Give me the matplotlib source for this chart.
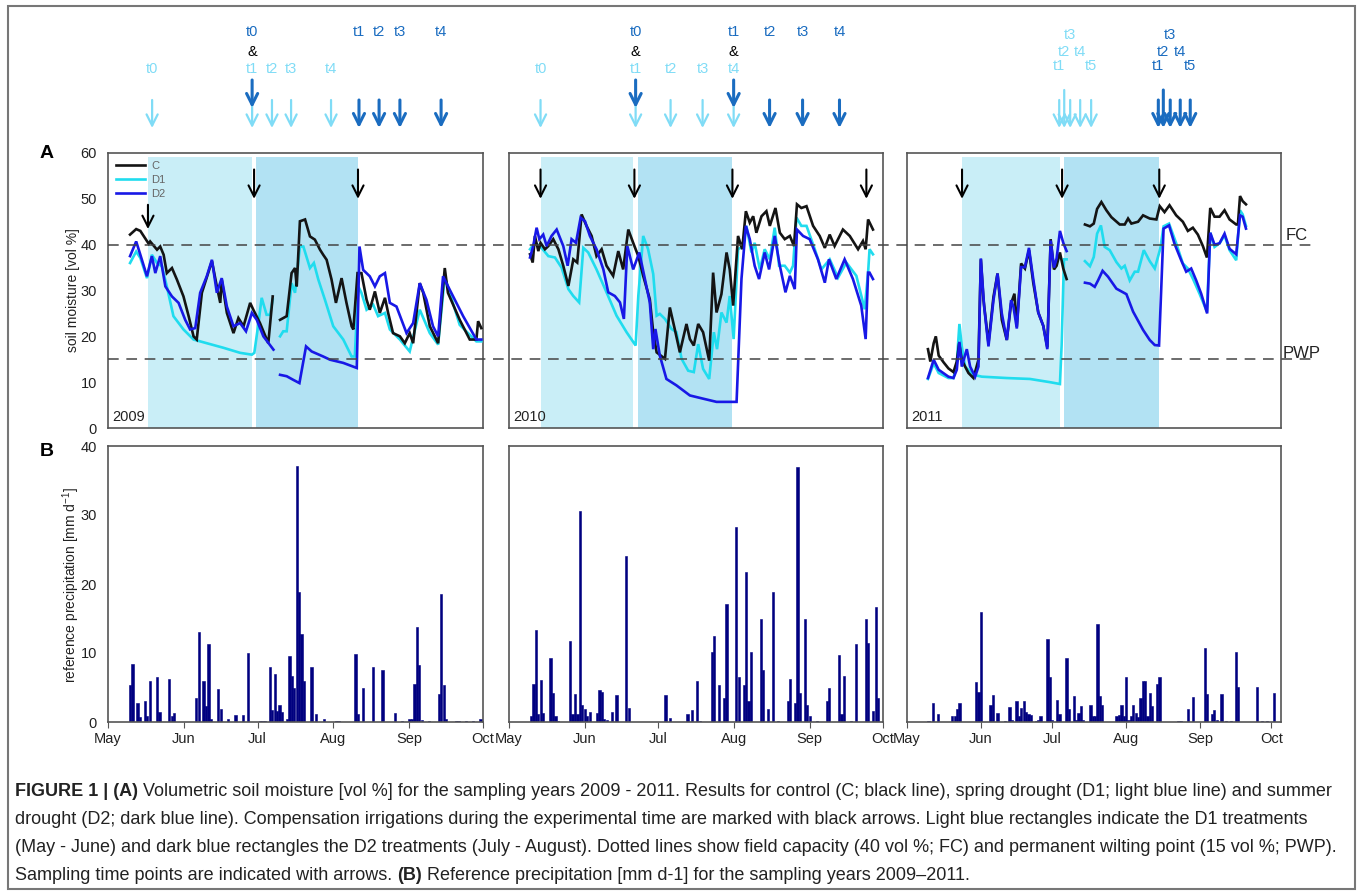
import numpy as np
import matplotlib
matplotlib.use('Agg')
import matplotlib.pyplot as plt
import matplotlib.transforms as mtrans
from matplotlib import font_manager
from matplotlib.lines import Line2D
from matplotlib.patches import Rectangle

plt.rcParams['font.family'] = ['Liberation Sans', 'DejaVu Sans']
plt.rcParams['mathtext.default'] = 'regular'

nan = np.nan

# ---------------- data ----------------
years = ['2009', '2010', '2011']
month_days = [0, 31, 61, 92, 123, 153]      # days since 1 May
month_names = ['May', 'Jun', 'Jul', 'Aug', 'Sep', 'Oct']
x_end = [153, 153, 157]

# soil moisture (day since 1 May, vol %); nan = gap
c_2009 = [(9, 42.2), (11.5, 43.4), (13.2, 43), (16.6, 40.2), (17.2, 40.7), (20, 38.9), (21.3, 39.6), (22.7, 37.8),
          (24, 33.8), (26.1, 34.9), (28.1, 32.4), (30.8, 28.7), (32.9, 24.4), (34.9, 20), (36.2, 19.3), (38.3, 29.5),
          (42.4, 36.4), (44.4, 30.9), (45.8, 27.3), (46.4, 32.4), (48.5, 25.1), (51.2, 20.7), (53.2, 24), (55.3, 22.2),
          (58, 27.3), (59.3, 25.8), (62, 22.9), (65.4, 18.5), (67.2, 28.7), (nan, nan),
          (70.2, 23.6), (72.9, 24.4), (74.9, 33.8), (76.3, 34.9), (77, 30.9), (78.3, 45.1), (80.4, 45.5), (82.4, 41.8),
          (84.4, 41.1), (86.5, 38.9), (87.8, 37.8), (89.2, 36.7), (91.2, 32.4), (93, 27.3), (95.3, 32.7), (97.3, 27.3),
          (99.4, 22.2), (100.1, 21.5), (101.8, 33.8), (103.4, 33.8), (105.5, 28), (106.8, 25.8), (108.9, 29.8),
          (110.9, 25.1), (113, 28.4), (114.3, 25.1), (116.3, 20.7), (119.1, 20), (121.1, 18.5), (123.1, 20.7),
          (124.5, 18.5), (127.2, 31.6), (128.6, 29.5), (131.3, 22.2), (134.7, 18.5), (137.4, 34.9), (138.7, 29.5),
          (143.5, 23.6), (147.6, 19.3), (150.3, 19.3), (151, 23.3), (152.3, 21.8)]
d1_2009 = [(9, 36), (11.5, 38.5), (13.2, 37.1), (15.9, 32.7), (17.9, 37.8), (20, 36), (22, 35.3), (24, 30.9),
           (26.7, 24.4), (30.8, 21.5), (34.9, 19.3), (40.3, 18.5), (47.1, 17.5), (53.9, 16.4), (58.7, 16), (59.7, 16.4),
           (61.4, 22.9), (62.7, 28.4), (64.7, 24.7), (66.1, 24.7), (67.2, 28), (nan, nan),
           (70.2, 20), (71.5, 21.1), (72.9, 21.1), (74.9, 31.6), (76.3, 29.5), (78.3, 39.6), (79.7, 39.6), (82.4, 34.9),
           (84, 36), (85.8, 32.4), (88.5, 28), (91.9, 22.2), (96, 19.3), (99.4, 15.6), (100.7, 15.6), (102.1, 30.9),
           (103.4, 29.5), (105.5, 25.8), (108.2, 26.9), (110.2, 24.4), (113, 25.1), (115, 21.5), (119.1, 19.3),
           (123.1, 16.7), (127.2, 25.8), (131.3, 20.7), (134.7, 18.2), (137.4, 33), (143.5, 22.5), (150.3, 18.9),
           (152.3, 18.9)]
d2_2009 = [(9, 37.5), (11.5, 40.7), (13.2, 37.8), (15.9, 33.1), (17.9, 37.5), (19.3, 33.8), (21.3, 37.5), (23.4, 30.9),
           (26.1, 28.7), (28.8, 27.3), (31.5, 23.6), (33.5, 21.5), (35.6, 21.8), (37.6, 29.5), (40.3, 33.1), (42.4, 36.7),
           (44.4, 29.5), (46.4, 32.7), (48.5, 26.5), (51.2, 22.2), (53.9, 22.9), (56.3, 21.1), (58.7, 25.1), (60.7, 23.6),
           (63.4, 20), (67.5, 17.1), (nan, nan),
           (70.2, 11.6), (72.9, 11.3), (75.6, 10.5), (78.1, 9.8), (80.8, 17.8), (83.1, 16.7), (87.8, 15.6), (90.6, 14.9),
           (96, 14.2), (101.5, 13.1), (102.6, 39.6), (104.1, 34.5), (106.8, 33.1), (108.9, 30.9), (110.9, 33.1),
           (113, 33.8), (115, 27.3), (117.7, 26.5), (121.8, 20.7), (124.5, 22.9), (127.2, 31.6), (129.9, 28),
           (132.6, 22.2), (134.7, 20), (136.7, 33.1), (139.4, 30.2), (144.9, 24.4), (150.3, 19.3), (152.3, 19.3)]

c_2010 = [(8.6, 37.9), (9.7, 36.1), (10.6, 41.9), (12, 38.6), (12.9, 40.4), (14.7, 39), (16.1, 39.7), (18.1, 41.2),
          (20.2, 39), (22.2, 35.4), (24.3, 31), (26.3, 36.8), (27.9, 36.1), (29.7, 46.6), (31.7, 44.1), (33.8, 41.9),
          (35.8, 37.5), (37.9, 39), (39.9, 35.4), (42.6, 33.2), (44.7, 38.6), (46.7, 34.6), (48.8, 43.3), (50.8, 40.4),
          (52.9, 37.5), (54.9, 33.2), (57.6, 28.1), (59, 20.9), (60.4, 16.5), (63.8, 15.1), (65.8, 26.3), (67.8, 21.6),
          (69.9, 16.5), (72.6, 22.7), (74, 19.4), (75.6, 18), (77.4, 22.7), (79.4, 20.9), (81.9, 14.7), (83.5, 33.9),
          (84.9, 25.2), (86.9, 29.2), (89, 38.3), (90.3, 34.6), (91.7, 26.7), (93.7, 41.9), (95.4, 39), (96.9, 47.3),
          (98.5, 44.8), (99.9, 46.2), (101.2, 42.6), (103.3, 46.2), (105.3, 47.3), (106.7, 44.1), (109, 48),
          (110.8, 42.6), (112.8, 41.2), (114.9, 41.9), (116.6, 39.7), (117.8, 48.8), (119.6, 48), (121.7, 48.4),
          (124.4, 44.1), (127.1, 41.9), (129.2, 39.3), (131.2, 42.2), (133.2, 39.7), (136.6, 43.3), (139.4, 41.9),
          (142.8, 39), (144.8, 40.8), (145.9, 39), (146.9, 45.5), (148.9, 43.3)]
d1_2010 = [(8.6, 39), (10.6, 40.4), (12.7, 39.7), (16.1, 37.5), (18.8, 37.2), (21.5, 35), (24.3, 30.3), (26.3, 28.8),
           (28.7, 27.4), (30.4, 39.3), (32.4, 38.3), (35.8, 34.6), (39.9, 29.6), (44, 24.5), (48.1, 20.9), (51.8, 18),
           (52.9, 28.8), (54.9, 41.9), (56.9, 39), (59, 33.6), (60.4, 24.5), (61.7, 24.9), (63.8, 23.8), (66.5, 21.6),
           (68.5, 20.9), (70.6, 15.1), (73.3, 12.5), (75.6, 12.2), (77.4, 18.3), (79.4, 12.9), (81.9, 10.7),
           (83.8, 20.9), (85.1, 17.2), (86.9, 25.2), (89, 23), (90.3, 28.8), (91.9, 19.4), (93.7, 39), (95.8, 39.7),
           (97.1, 44.1), (99.2, 38.3), (100.5, 40.4), (102.6, 34.6), (104.6, 39), (106.7, 36.8), (108.7, 43.7),
           (110.5, 35.4), (112.8, 35.4), (114.9, 33.9), (116.2, 35.4), (117.6, 45.9), (119.6, 44.1), (121.7, 44.1),
           (125.1, 39), (127.8, 34.6), (131.2, 36.8), (134.6, 32.8), (138, 36.1), (142.1, 33.2), (145.5, 25.9),
           (146.9, 33.9), (147.5, 39), (148.9, 37.9)]
d2_2010 = [(8.6, 37.2), (9.9, 39.7), (11.3, 43.7), (12.4, 41.2), (14, 42.2), (15.4, 39.7), (17.4, 41.9), (19.5, 43.3),
           (22.2, 39.7), (24, 35.4), (25.6, 41.2), (27.4, 40.4), (29.3, 45.9), (31.1, 45.1), (33.1, 41.9), (35.8, 39),
           (38.6, 34.6), (40.6, 29.6), (43.3, 28.8), (45.4, 27.4), (47, 23.8), (48.4, 39.7), (50.8, 34.6), (53.3, 38.3),
           (55.6, 32.5), (57.6, 27.4), (59, 17.2), (59.9, 21.6), (61.7, 15.8), (64.4, 10.7), (68.5, 9.3), (74, 7.1),
           (79.4, 6.4), (84.9, 5.7), (93.1, 5.7), (95.1, 32.5), (96.9, 44.1), (98.5, 41.2), (100.5, 35.4),
           (102.3, 32.5), (104.6, 38.3), (106.4, 34.6), (108.7, 41.9), (110.8, 35.4), (113.1, 29.6), (114.9, 33.2),
           (116.9, 30.3), (117.8, 43.3), (120.3, 41.9), (123, 41.2), (126.4, 36.8), (129.2, 31.7), (130.9, 36.8),
           (133.9, 32.5), (137.3, 36.8), (140.7, 32.5), (144.1, 26.7), (145.9, 19.4), (146.9, 33.9), (147.5, 33.9),
           (148.9, 32.5)]

c_2011 = [(8.8, 17.2), (9.8, 14.5), (11.2, 18.5), (12.1, 20), (13.3, 15.8), (15.4, 14.3), (17.4, 13), (19.5, 12.2),
          (20.9, 14.5), (21.9, 18.5), (23, 14.9), (24.4, 13.4), (25.8, 12), (27.9, 10.9), (30, 14.9), (31, 36.8),
          (32.1, 28), (34.2, 18.5), (36.3, 28.6), (38, 33.7), (39.8, 23.6), (41.9, 19.2), (43.7, 27.2), (45.1, 29.3),
          (46.1, 22.1), (47.9, 35.9), (49.5, 34.8), (51.2, 38.8), (53, 31.7), (55.1, 25.2), (57.2, 22.3), (58.9, 17.6),
          (60.3, 41.2), (61.7, 34.6), (62.8, 35.4), (64.2, 38.3), (65.6, 34.8), (67, 32.5), (nan, nan),
          (74.7, 44.4), (76.8, 44), (78.4, 44.6), (79.8, 47.8), (81.6, 49.3), (83.7, 47.5), (85.8, 46), (89.3, 44.4),
          (91.4, 44.4), (92.8, 45.7), (94.2, 44.6), (97, 45), (99.1, 46.4), (101.9, 45.7), (104.7, 45.5),
          (106.1, 48.4), (108.1, 47.1), (110.2, 48.6), (113, 46.4), (115.8, 45), (117.9, 43), (120, 43.7),
          (122.1, 42.2), (124.2, 39.7), (125.9, 37.2), (127.3, 48), (129.1, 46.1), (131.2, 46.1), (133.3, 47.5),
          (135.4, 45.5), (138.2, 44.4), (138.9, 44.4), (139.8, 50.6), (140.9, 49.5), (142.3, 48.8)]
d1_2011 = [(8.8, 10.7), (11.2, 14.1), (13.3, 12), (17.4, 10.9), (19.5, 10.9), (20.9, 14.1), (22, 22.7), (23, 17.8),
           (24.4, 13.4), (27.9, 11.6), (31.4, 11.2), (41.9, 10.9), (51.6, 10.7), (60, 10), (64.2, 9.6), (64.9, 18),
           (65.9, 36.8), (67, 36.8), (nan, nan),
           (74.7, 36.4), (76.8, 35.3), (78.4, 37.3), (79.8, 42.4), (81.4, 44.2), (83, 39.5), (85.1, 38.8), (87.9, 36.2),
           (90, 34.8), (91.4, 35.4), (93.5, 32.2), (95.6, 34.1), (97, 34.1), (99.4, 38.8), (101.9, 36.4), (104, 34.8),
           (106.3, 39.1), (107.7, 44), (110, 44.6), (113, 40.3), (115.8, 35.9), (117.9, 34.8), (120, 32.6),
           (122.8, 29.3), (125.9, 25.4), (127.3, 42.6), (129.1, 39.5), (131.2, 40.3), (133.3, 42), (135.4, 38.8),
           (138.2, 36.6), (139.8, 47.5), (140.9, 46.6), (142.3, 44.1)]
d2_2011 = [(8.8, 10.9), (11.2, 14.9), (13.3, 12.7), (17.4, 11.2), (19.5, 10.9), (20.9, 12.7), (22, 18.8), (23, 13.4),
           (25.1, 17.2), (26.5, 13.4), (28.6, 11.2), (30, 13.4), (31, 37), (32.4, 26.4), (34.2, 17.8), (36.3, 27.9),
           (38, 33.7), (39.8, 25), (41.9, 19.2), (43.7, 27.9), (44.7, 26.4), (46.1, 21.7), (47.9, 35.1), (49.5, 35.1),
           (51.2, 39.3), (53, 32.5), (55.1, 25.2), (57.2, 22.3), (58.9, 17.2), (60.3, 40.9), (61.7, 35), (62.8, 37),
           (64.2, 43), (65.6, 40.4), (67, 38.6), (nan, nan),
           (74.7, 31.7), (76.8, 31.5), (78.8, 30.8), (80.2, 32.2), (82.1, 34.3), (84.4, 33), (87.9, 30.4), (90.7, 29.6),
           (92.1, 29.2), (94.9, 25.4), (99.1, 21.4), (101.9, 19.2), (104, 18.1), (105.8, 18), (107.7, 43.5),
           (110, 44.2), (112.3, 40.2), (115.1, 36.6), (117.2, 34.1), (119.3, 34.8), (121.4, 32.2), (123.5, 29.3),
           (126, 25), (127.3, 42.6), (129.1, 40), (131.2, 40.3), (133.3, 42.4), (135.4, 39.1), (138.2, 37.9),
           (139.8, 46.4), (140.9, 46.1), (142.3, 43.5)]

moisture = {'2009': [c_2009, d1_2009, d2_2009],
            '2010': [c_2010, d1_2010, d2_2010],
            '2011': [c_2011, d1_2011, d2_2011]}
treatments = ['C', 'D1', 'D2']

# drought periods (start, end day)
d1_period = [(16.3, 58.8), (12.9, 50.9), (23.1, 64.3)]
d2_period = [(60.4, 102), (52.6, 91.4), (66, 105.9)]
# compensation irrigations
irrigation = [[16.3, 59.6, 102], [12.9, 51.3, 91.4, 146.2], [23.1, 65.1, 105.9]]

# sampling time points
samp_d1 = [[18, 58.8, 66.9, 74.7, 91], [12.9, 51.8, 66.1, 79.2, 91.9], [63.9, 66, 68.5, 72.7, 77.3]]
samp_d2 = [[58.8, 102.4, 110.6, 119.1, 135.9], [51.8, 91.9, 106.6, 120.1, 135.2], [105.5, 107.6, 110.5, 114.7, 118.9]]
samp_d1_names = [['t0', 't1', 't2', 't3', 't4'], ['t0', 't1', 't2', 't3', 't4'], ['t1', 't2', 't3', 't4', 't5']]
samp_d2_names = [['t0', 't1', 't2', 't3', 't4'], ['t0', 't1', 't2', 't3', 't4'], ['t1', 't2', 't3', 't4', 't5']]

FC, PWP = 40, 15

# reference precipitation (day since 1 May, mm/d)
p09_day = [9, 10, 12, 13, 15, 16, 17, 20, 21, 25, 26, 27, 36, 37, 39, 40, 41, 42, 45, 46, 49, 52, 55, 57, 62, 63, 64,
           66, 67, 68, 69, 70, 71, 73, 74, 75, 76, 77, 78, 79, 80, 83, 85, 88, 93, 94, 101, 102, 104, 108, 112, 117,
           120, 123, 124, 125, 126, 127, 128, 131, 135, 136, 137, 138, 142, 143, 146, 149, 152]
p09_val = [5.3, 8.4, 2.7, 0.7, 3.1, 0.8, 6.0, 6.5, 1.5, 6.3, 0.9, 1.3, 3.5, 13.0, 6.0, 2.3, 11.3, 0.5, 4.8, 1.9, 0.4,
           1.0, 1.0, 10.0, 0.2, 0.2, 0.2, 7.9, 1.8, 6.9, 1.6, 2.4, 1.4, 0.5, 9.5, 6.7, 4.9, 37.1, 18.8, 12.8, 5.9, 7.9,
           1.2, 0.4, 0.2, 0.2, 9.9, 1.2, 5.0, 7.9, 7.5, 1.3, 0.2, 0.5, 0.5, 5.5, 13.7, 8.2, 0.3, 0.2, 4.0, 18.5, 5.4,
           0.4, 0.1, 0.2, 0.1, 0.1, 0.4]
p10_day = [9, 10, 11, 12, 13, 14, 17, 18, 19, 20, 25, 26, 27, 28, 29, 30, 31, 32, 33, 36, 37, 38, 39, 40, 42, 44, 48,
           49, 64, 66, 73, 75, 77, 78, 83, 84, 86, 88, 89, 93, 94, 96, 97, 98, 99, 103, 104, 106, 108, 110, 114, 115,
           117, 118, 119, 121, 122, 123, 126, 130, 131, 135, 136, 137, 140, 142, 146, 147, 149, 150, 151]
p10_val = [0.8, 5.5, 13.4, 1.2, 6.1, 1.3, 9.3, 4.2, 0.8, 0.2, 11.8, 1.2, 4.0, 1.2, 30.6, 2.5, 1.9, 0.9, 1.5, 1.3, 4.6,
           4.3, 0.4, 0.3, 1.5, 3.9, 24.1, 2.0, 3.9, 0.6, 1.1, 1.7, 6.0, 0.2, 10.1, 12.4, 5.3, 3.5, 17.1, 28.3, 6.5,
           5.3, 21.7, 3.1, 10.1, 15.0, 7.6, 1.9, 18.8, 0.2, 3.0, 6.2, 2.7, 37.0, 4.2, 14.9, 2.5, 0.9, 0.2, 3.0, 4.9,
           9.7, 1.2, 6.7, 0.2, 11.3, 14.9, 11.4, 1.6, 16.6, 3.5]
p11_day = [9, 11, 13, 19, 20, 21, 22, 29, 30, 31, 35, 36, 38, 41, 43, 44, 46, 47, 48, 49, 50, 51, 52, 54, 55, 56, 59,
           60, 61, 63, 64, 67, 68, 70, 71, 72, 73, 74, 77, 78, 79, 80, 81, 82, 88, 89, 90, 91, 92, 93, 94, 95, 96, 97,
           98, 99, 100, 101, 102, 103, 105, 106, 114, 115, 118, 120, 125, 126, 128, 129, 130, 132, 134, 136, 138,
           139, 147, 149, 151, 154]
p11_val = [0.2, 2.7, 1.1, 0.8, 0.8, 1.9, 2.7, 5.8, 4.3, 15.9, 2.5, 3.9, 1.3, 0.2, 2.2, 0.3, 3.1, 0.8, 2.0, 3.1, 1.5,
           1.1, 1.0, 0.2, 0.3, 0.9, 12.1, 6.5, 0.3, 3.2, 1.2, 9.3, 1.9, 3.8, 0.3, 1.3, 2.3, 0.3, 2.5, 0.8, 0.8, 14.2,
           3.8, 2.5, 0.8, 1.0, 2.4, 0.8, 6.5, 0.3, 0.8, 2.4, 1.3, 0.7, 3.5, 6.0, 6.0, 0.8, 4.2, 2.3, 5.5, 6.5, 0.2,
           0.2, 1.9, 3.6, 10.7, 4.0, 1.2, 1.8, 0.3, 4.1, 0.2, 0.2, 10.1, 5.1, 5.1, 0.2, 0.2, 4.2]
precip = [(p09_day, p09_val), (p10_day, p10_val), (p11_day, p11_val)]

caption = [
    [("FIGURE 1 | (A)", 'bold'), (" Volumetric soil moisture [vol %] for the sampling years 2009 - 2011. Results for "
                                  "control (C; black line), spring drought (D1; light blue line) and summer", 'normal')],
    [("drought (D2; dark blue line). Compensation irrigations during the experimental time are marked with black "
      "arrows. Light blue rectangles indicate the D1 treatments", 'normal')],
    [("(May - June) and dark blue rectangles the D2 treatments (July - August). Dotted lines show field capacity "
      "(40 vol %; FC) and permanent wilting point (15 vol %; PWP).", 'normal')],
    [("Sampling time points are indicated with arrows. ", 'normal'), ("(B)", 'bold'),
     (" Reference precipitation [mm d-1] for the sampling years 2009\u20132011.", 'normal')],
]

# ---------------- style ----------------
col_line = {'C': '#141414', 'D1': '#20dcee', 'D2': '#1818e6'}
draw_order = ['D1', 'C', 'D2']
light_rect = '#c9eef7'
dark_rect = '#b2e2f3'
light_arrow = '#80dcf6'
dark_arrow = '#1a6cc0'
bar_col = '#000080'
spine_col = '#555555'

W, H = 1358, 891
fig = plt.figure(figsize=(W / 100, H / 100), dpi=100)


def box(l, t, r, b):
    return [l / W, 1 - b / H, (r - l) / W, (b - t) / H]


a_px = [(108, 153, 483, 428), (509, 153, 883, 428), (907, 153, 1281, 428)]
b_px = [(108, 446, 483, 722), (509, 446, 883, 722), (907, 446, 1281, 722)]


def style_spines(ax):
    for s in ax.spines.values():
        s.set_color(spine_col)
        s.set_linewidth(1.2)


axA = []
for i, yr in enumerate(years):
    ax = fig.add_axes(box(*a_px[i]))
    ax.set_xlim(0, x_end[i])
    ax.set_ylim(0, 60)
    ax.axvspan(*d1_period[i], ymin=0, ymax=59.1 / 60, color=light_rect, lw=0, zorder=0)
    ax.axvspan(*d2_period[i], ymin=0, ymax=59.1 / 60, color=dark_rect, lw=0, zorder=0)
    handles = {}
    for name in draw_order:
        arr = np.array(moisture[yr][treatments.index(name)], dtype=float)
        ln, = ax.plot(arr[:, 0], arr[:, 1], color=col_line[name], lw=1.9, solid_joinstyle='miter', zorder=3)
        handles[name] = ln
    for j, d in enumerate(irrigation[i]):
        top, bot = (48.7, 43.4) if (i == 0 and j == 0) else (56.4, 50.0)
        ax.annotate('', xy=(d, bot), xytext=(d, top),
                    arrowprops=dict(arrowstyle='->', color='black', lw=1.5, mutation_scale=20,
                                    shrinkA=0, shrinkB=0), zorder=5)
    ax.text(0.012, 0.015, yr, transform=ax.transAxes, fontsize=10.5, color='#222222', ha='left', va='bottom')
    ax.set_xticks([])
    if i == 0:
        ax.set_yticks(np.arange(0, 61, 10))
        ax.tick_params(axis='y', labelsize=10.5, length=0, pad=8, labelcolor='#222222')
        ax.legend([handles[n] for n in treatments], treatments, loc='upper left', frameon=False, fontsize=8,
                  labelcolor='#666666', handlelength=2.6, handletextpad=0.6, labelspacing=0.35,
                  borderaxespad=0.3, bbox_to_anchor=(0.0, 1.0))
    else:
        ax.set_yticks([])
    style_spines(ax)
    axA.append(ax)

for i, yr in enumerate(years):
    ax = fig.add_axes(box(*b_px[i]))
    days, vals = precip[i]
    ax.bar(days, vals, width=0.95, color=bar_col, edgecolor=bar_col, lw=0.4)
    ax.set_xlim(0, x_end[i])
    ax.set_ylim(0, 40)
    ax.set_xticks(month_days)
    ax.set_xticklabels(month_names)
    ax.tick_params(axis='x', direction='out', length=4, labelsize=10.5, pad=3, color=spine_col,
                   labelcolor='#222222')
    if i == 0:
        ax.set_yticks(np.arange(0, 41, 10))
        ax.tick_params(axis='y', labelsize=10.5, length=0, pad=8, labelcolor='#222222')
    else:
        ax.set_yticks([])
    style_spines(ax)

# sampling arrows above the panels
for i, yr in enumerate(years):
    tax = fig.add_axes(box(a_px[i][0], 0, a_px[i][2], 145))
    tax.set_xlim(0, x_end[i])
    tax.set_ylim(145, 0)
    tax.axis('off')
    stacked = (i == 2)
    stack_y = [66, 52, 35, 52, 66]
    for j, d in enumerate(samp_d1[i]):
        top = 90 if (stacked and j == 1) else 100
        tax.annotate('', xy=(d, 128), xytext=(d, top),
                     arrowprops=dict(arrowstyle='->', color=light_arrow, lw=1.6, mutation_scale=20,
                                     shrinkA=0, shrinkB=0))
        ly = stack_y[j] if stacked else 69
        tax.text(d, ly, samp_d1_names[i][j], color=light_arrow, fontsize=10.5, ha='center', va='center')
    for j, d in enumerate(samp_d2[i]):
        shared = (not stacked) and any(abs(d - e) < 1.5 for e in samp_d1[i])
        if shared:
            top, bot = 80, 108
            tax.text(d, 52, '&', color='black', fontsize=10.5, ha='center', va='center')
        else:
            top, bot = (90 if (stacked and j == 1) else 100), 128
        tax.annotate('', xy=(d, bot), xytext=(d, top),
                     arrowprops=dict(arrowstyle='->', color=dark_arrow, lw=2.2, mutation_scale=20,
                                     shrinkA=0, shrinkB=0))
        ly = stack_y[j] if stacked else 32
        tax.text(d, ly, samp_d2_names[i][j], color=dark_arrow, fontsize=10.5, ha='center', va='center')

# FC / PWP dashed lines across all soil moisture panels
trans = mtrans.blended_transform_factory(fig.transFigure, axA[0].transData)
for level in (FC, PWP):
    fig.add_artist(Line2D([108 / W, 1312 / W], [level, level], transform=trans, color='#444444', lw=1.1,
                          ls=(0, (7, 5)), zorder=10))
fig.text(1286 / W, 1 - 236 / H, 'FC', fontsize=12, color='#222222', va='center', ha='left')
fig.text(1283 / W, 1 - 354 / H, 'PWP', fontsize=12, color='#222222', va='center', ha='left')

fig.text(40 / W, 1 - 153 / H, 'A', fontsize=14, fontweight='bold', va='center', ha='left')
fig.text(40 / W, 1 - 451 / H, 'B', fontsize=14, fontweight='bold', va='center', ha='left')
fig.text(73 / W, 1 - 290 / H, 'soil moisture [vol %]', rotation=90, fontsize=10, va='center', ha='center',
         color='#222222')
fig.text(71 / W, 1 - 585 / H, 'reference precipitation [mm d$^{-1}$]', rotation=90, fontsize=10, va='center',
         ha='center', color='#222222')

# outer frame
fig.add_artist(Rectangle((8 / W, 1 - 889 / H), (1355 - 8) / W, (889 - 6) / H, transform=fig.transFigure,
                         fill=False, ec='#777777', lw=1.5))

# caption, fitted to the width of the first line
installed = {f.name for f in font_manager.fontManager.ttflist}
cap_font = 'Liberation Sans Narrow' if 'Liberation Sans Narrow' in installed else 'Liberation Sans'
renderer = fig.canvas.get_renderer()
probe = sum(len(t) for t, _ in caption[0])
tmp = [fig.text(0, 0, t, fontsize=10, family=cap_font, fontweight=w) for t, w in caption[0]]
width0 = sum(t.get_window_extent(renderer).width for t in tmp)
for t in tmp:
    t.remove()
cap_size = 10 * 1320 / width0
cap_y = [792, 820, 848, 876]
for line, y in zip(caption, cap_y):
    x = 15
    for txt, weight in line:
        t = fig.text(x / W, 1 - y / H, txt, fontsize=cap_size, family=cap_font, fontweight=weight,
                     va='center', ha='left', color='#222222')
        x += t.get_window_extent(renderer).width

fig.savefig('out.png', dpi=100)
